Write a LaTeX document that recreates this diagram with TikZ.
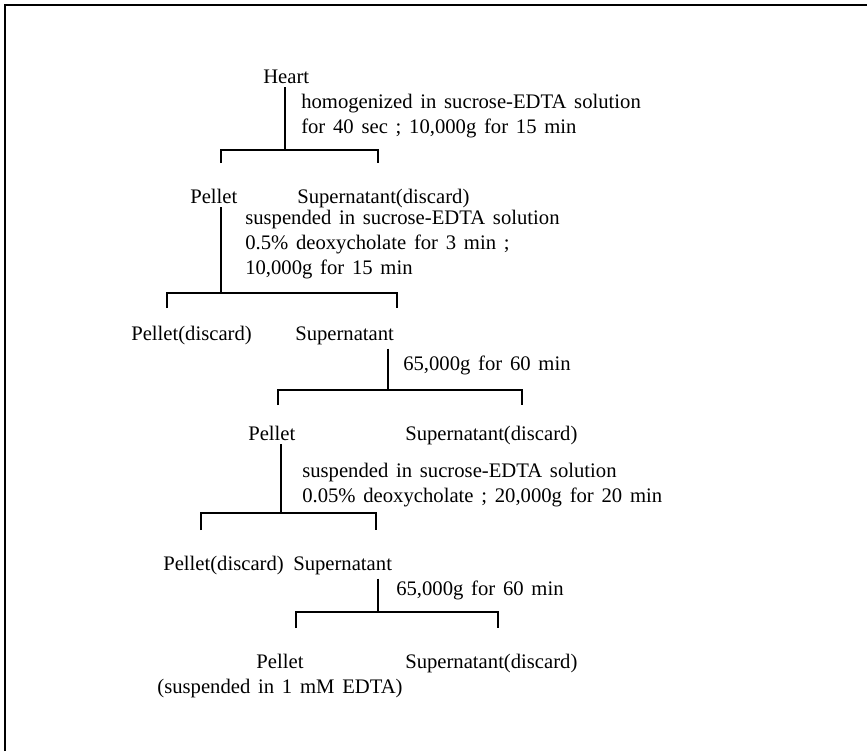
\documentclass[tikz,border=0pt]{standalone}
\usepackage{fontspec}
\setmainfont{Liberation Serif}[WordSpace=1.5]
\usetikzlibrary{calc}
\tikzset{
	lbl/.style={anchor=base west, inner xsep=0, inner ysep=3pt,
		font=\fontsize{15.5}{18.75}\selectfont},
	tree/.style={line width=1.3pt},
	frame/.style={line width=2pt}
}
\newcommand{\oplines}[1]{\begin{tabular}[t]{@{}l@{}}#1\end{tabular}}
\newcommand{\midlines}[1]{\begin{tabular}[t]{@{}c@{}}#1\end{tabular}}

\begin{document}
\begin{tikzpicture}[x=0.75pt,y=-0.75pt]
	\useasboundingbox (0,0) rectangle (867,751);
	\draw[frame] (5,751) -- (5,5) -- (867,5);
	
	% heart
	\node[lbl] (heart) at (263,83) {Heart};
	\node[lbl] (o0) at (301,108) {\oplines{homogenized in sucrose-EDTA solution\\
		for 40 sec ; 10,000g for 15 min}};
	\coordinate (j0) at (285,150);
	\coordinate (l0) at (221,163);
	\coordinate (r0) at (378,163);
	\draw[tree] (heart.south -| j0) -- (j0);
	\draw[tree] (l0) |- (j0) -| (r0);
	
	% first spin
	\node[lbl] (p1) at (190,203) {Pellet};
	\node[lbl] (s1) at (297,203) {Supernatant(discard)};
	\node[lbl] (o1) at (245,224) {\oplines{suspended in sucrose-EDTA solution\\
		0.5\% deoxycholate for 3 min ;\\ 10,000g for 15 min}};
	\coordinate (j1) at (221,293);
	\coordinate (l1) at (167,308);
	\coordinate (r1) at (397,308);
	\draw[tree] (p1.south -| j1) -- (j1);
	\draw[tree] (l1) |- (j1) -| (r1);
	
	% deoxycholate spin
	\node[lbl] (pd2) at (131,340) {Pellet(discard)};
	\node[lbl] (s2) at (295,340) {Supernatant};
	\node[lbl] (o2) at (403,370) {65,000g for 60 min};
	\coordinate (j2) at (388,390);
	\coordinate (l2) at (278,405);
	\coordinate (r2) at (522,405);
	\draw[tree] (s2.south -| j2) -- (j2);
	\draw[tree] (l2) |- (j2) -| (r2);
	
	% high speed spin
	\node[lbl] (p3) at (248,440) {Pellet};
	\node[lbl] (s3) at (405,440) {Supernatant(discard)};
	\node[lbl] (o3) at (302,477) {\oplines{suspended in sucrose-EDTA solution\\
		0.05\% deoxycholate ; 20,000g for 20 min}};
	\coordinate (j3) at (281,513);
	\coordinate (l3) at (201,530);
	\coordinate (r3) at (376,530);
	\draw[tree] (p3.south -| j3) -- (j3);
	\draw[tree] (l3) |- (j3) -| (r3);
	
	% second deoxycholate spin
	\node[lbl] (pd4) at (163,570) {Pellet(discard)};
	\node[lbl] (s4) at (293,570) {Supernatant};
	\node[lbl] (o4) at (396,595) {65,000g for 60 min};
	\coordinate (j4) at (378,612);
	\coordinate (l4) at (296,628);
	\coordinate (r4) at (498,628);
	\draw[tree] (s4.south -| j4) -- (j4);
	\draw[tree] (l4) |- (j4) -| (r4);
	
	% last fraction
	\node[lbl, anchor=base] (p5) at (280,668) {\midlines{Pellet\\(suspended in 1 mM EDTA)}};
	\node[lbl] (s5) at (405,668) {Supernatant(discard)};
\end{tikzpicture}
\end{document}
